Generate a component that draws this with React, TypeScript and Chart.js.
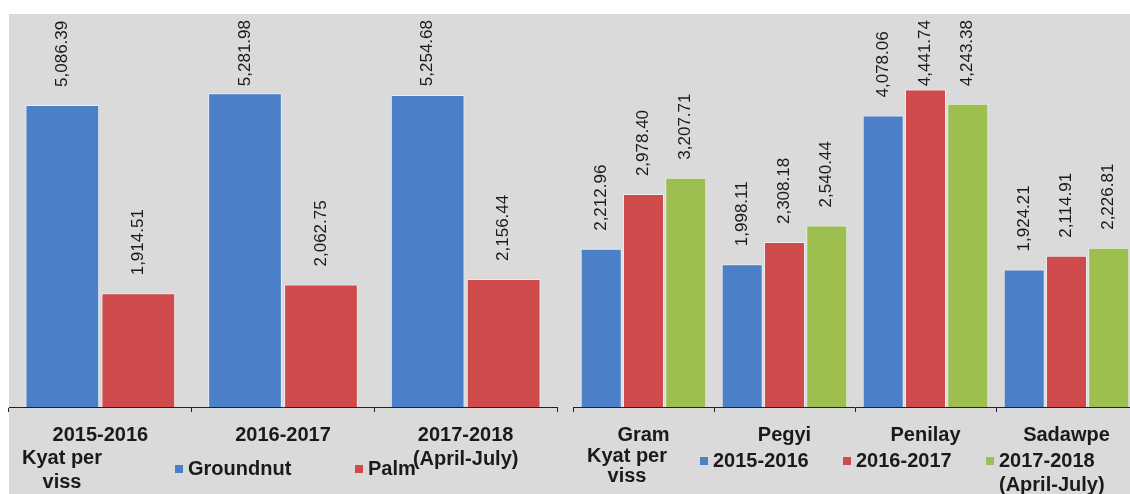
import React, { useEffect, useRef } from 'react';
import { Chart, registerables } from 'chart.js';

Chart.register(...registerables);

// ---- Data ----
const oilYears: string[][] = [['2015-2016'], ['2016-2017'], ['2017-2018', '(April-July)']];
const groundnutPrices = [5086.39, 5281.98, 5254.68];
const palmPrices = [1914.51, 2062.75, 2156.44];
const oilSeries = ['Groundnut', 'Palm'];

const pulseCategories = ['Gram', 'Pegyi', 'Penilay', 'Sadawpe'];
const prices2015 = [2212.96, 1998.11, 4078.06, 1924.21];
const prices2016 = [2978.4, 2308.18, 4441.74, 2114.91];
const prices2017 = [3207.71, 2540.44, 4243.38, 2226.81];
const pulseSeries = ['2015-2016', '2016-2017', '2017-2018\n(April-July)'];

const unitLabel = ['Kyat per', 'viss'];
const leftMax = 6500;
const rightMax = 5400;

// ---- Styles ----
const BLUE = '#4b7fc7';
const RED = '#cf4a4b';
const GREEN = '#9cbf4f';
const TEXT = '#1a1a1a';
const FONT = '"Liberation Sans", Arial, Helvetica, sans-serif';
const BAR_EDGE = 'rgba(255,255,255,0.55)';

const annotate = {
  id: 'annotate',
  afterDatasetsDraw(chart: any, _args: any, opts: any) {
    const ctx = chart.ctx as CanvasRenderingContext2D;
    ctx.save();
    // value labels
    ctx.fillStyle = TEXT;
    ctx.font = `17px ${FONT}`;
    ctx.textAlign = 'left';
    ctx.textBaseline = 'middle';
    chart.data.datasets.forEach((ds: any, di: number) => {
      const meta = chart.getDatasetMeta(di);
      meta.data.forEach((el: any, i: number) => {
        const v = ds.data[i] as number;
        const txt = v.toLocaleString('en-US', { minimumFractionDigits: 2, maximumFractionDigits: 2 });
        const w = ctx.measureText(txt).width;
        const start = Math.max(el.y - opts.gap, opts.minTop + w);
        ctx.save();
        ctx.translate(el.x, start);
        ctx.rotate(-Math.PI / 2);
        ctx.fillText(txt, 0, 0);
        ctx.restore();
      });
    });
    // legend
    ctx.font = `bold 20px ${FONT}`;
    chart.data.datasets.forEach((ds: any, di: number) => {
      const x = opts.legendX + di * opts.legendStep;
      ctx.fillStyle = ds.backgroundColor;
      ctx.fillRect(x, opts.legendY - 4, 8, 8);
      ctx.fillStyle = TEXT;
      String(ds.label)
        .split('\n')
        .forEach((line: string, li: number) => ctx.fillText(line, x + 13, opts.legendY + li * 24));
    });
    // unit title
    ctx.textAlign = 'center';
    unitLabel.forEach((line, li) => ctx.fillText(line, opts.unitX, opts.unitY + li * opts.unitStep));
    ctx.restore();
  },
};

function makeOptions(max: number, padLeft: number, padRight: number, ann: any) {
  return {
    responsive: false,
    animation: false as const,
    layout: { padding: { left: padLeft, right: padRight, top: 21, bottom: 0 } },
    plugins: {
      legend: { display: false },
      tooltip: { enabled: false },
      annotate: ann,
    },
    scales: {
      x: {
        grid: {
          display: true,
          drawOnChartArea: false,
          drawTicks: true,
          tickLength: 5,
          color: '#222',
          offset: true,
        },
        border: { display: true, color: '#222', width: 1 },
        ticks: {
          color: TEXT,
          font: { family: FONT, size: 20, weight: 'bold' as const },
          padding: 11,
          maxRotation: 0,
          autoSkip: false,
        },
        afterFit: (s: any) => {
          s.height = 87;
        },
      },
      y: { display: false, min: 0, max },
    },
  };
}

function ChartCanvas({ config, left, width }: { config: () => any; left: number; width: number }) {
  const ref = useRef<HTMLCanvasElement | null>(null);
  useEffect(() => {
    if (!ref.current) return;
    const chart = new Chart(ref.current, config());
    return () => chart.destroy();
  }, []);
  return (
    <canvas
      ref={ref}
      width={width}
      height={494}
      style={{ position: 'absolute', left, top: 0, width, height: 494, display: 'block' }}
    />
  );
}

function barStyle(color: string, cat: number) {
  return {
    backgroundColor: color,
    borderColor: BAR_EDGE,
    borderWidth: 1,
    borderSkipped: 'bottom' as const,
    categoryPercentage: cat,
    barPercentage: 0.97,
  };
}

export default function App() {
  const leftConfig = () => ({
    type: 'bar',
    data: {
      labels: oilYears,
      datasets: [
        { label: oilSeries[0], data: groundnutPrices, ...barStyle(BLUE, 0.832) },
        { label: oilSeries[1], data: palmPrices, ...barStyle(RED, 0.832) },
      ],
    },
    options: makeOptions(leftMax, 9, 9, {
      gap: 18,
      minTop: 20,
      legendX: 175,
      legendStep: 180,
      legendY: 469,
      unitX: 62,
      unitY: 458,
      unitStep: 24,
    }),
    plugins: [annotate],
  });

  const rightConfig = () => ({
    type: 'bar',
    data: {
      labels: pulseCategories,
      datasets: [
        { label: pulseSeries[0], data: prices2015, ...barStyle(BLUE, 0.9) },
        { label: pulseSeries[1], data: prices2016, ...barStyle(RED, 0.9) },
        { label: pulseSeries[2], data: prices2017, ...barStyle(GREEN, 0.9) },
      ],
    },
    options: makeOptions(rightMax, 8, 28, {
      gap: 18,
      minTop: 20,
      legendX: 135,
      legendStep: 143,
      legendY: 461,
      unitX: 62,
      unitY: 456,
      unitStep: 20,
    }),
    plugins: [annotate],
  });

  return (
    <div style={{ position: 'absolute', left: 0, top: 0, width: 1130, height: 494, overflow: 'hidden', background: '#fff' }}>
      <div style={{ position: 'absolute', left: 9, top: 14, width: 1121, height: 480, background: '#dadada' }} />
      <ChartCanvas config={leftConfig} left={0} width={566} />
      <ChartCanvas config={rightConfig} left={565} width={600} />
    </div>
  );
}
